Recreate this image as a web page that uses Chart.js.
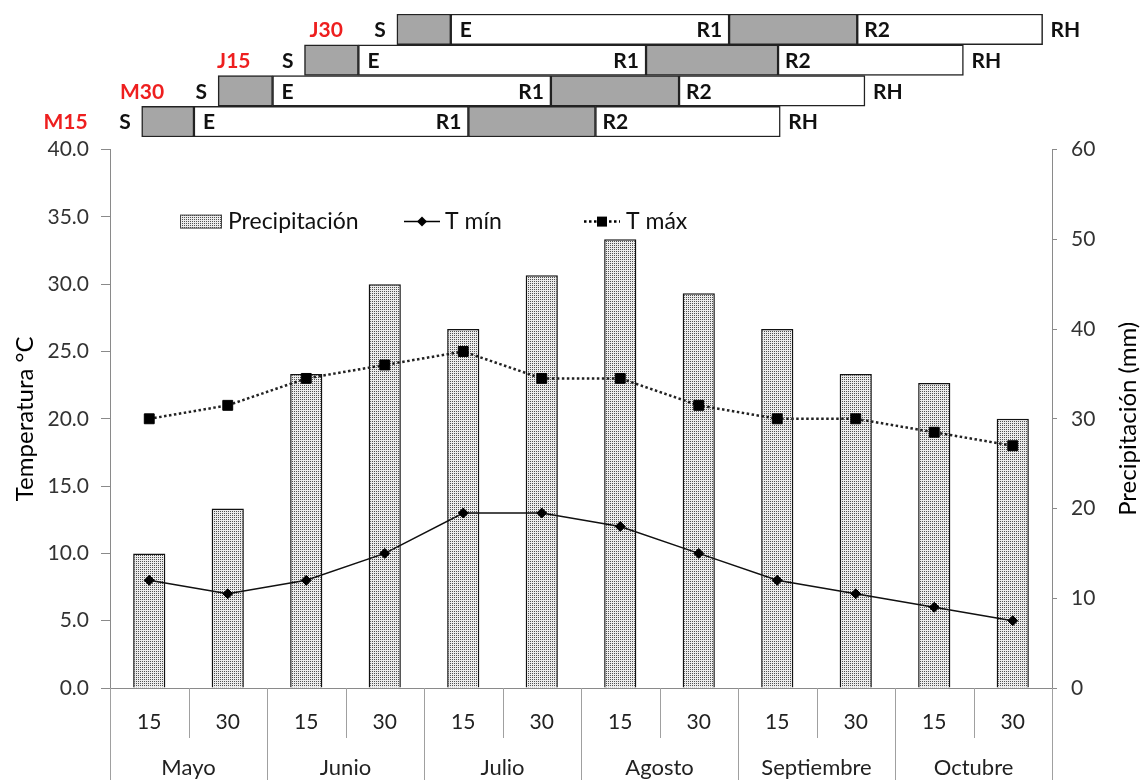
<!DOCTYPE html>
<html>
<head>
<meta charset="utf-8">
<script src="https://cdn.jsdelivr.net/npm/chart.js@4.4.1/dist/chart.umd.min.js"></script>
<style>
  body { margin: 0; background: #fff; }
  #wrap { position: relative; width: 1142px; height: 780px; overflow: hidden; }
  #fases { position: absolute; left: 0; top: 0; }
  #clima { position: absolute; left: 0; top: 123px; }
</style>
</head>
<body>
<div id="wrap">
  <canvas id="fases" width="1142" height="140"></canvas>
  <canvas id="clima" width="1142" height="657"></canvas>
</div>
<script>
// fechas de siembra y fases (dias desde el 1 de mayo)
const fechasSiembra = ['J30', 'J15', 'M30', 'M15'];
const diaS = [60.4, 43.6, 27.9, 14.0];
const diaE = [70.2, 53.4, 37.8, 23.5];
const diaR1 = [120.8, 105.7, 88.4, 73.4];
const diaR2 = [144.1, 129.7, 111.7, 96.5];
const diaRH = [177.8, 163.4, 145.5, 130.1];

// datos climaticos por quincena
const quincenas = ['15', '30', '15', '30', '15', '30', '15', '30', '15', '30', '15', '30'];
const meses = ['Mayo', 'Junio', 'Julio', 'Agosto', 'Septiembre', 'Octubre'];
const precipitacion = [15, 20, 35, 45, 40, 46, 50, 44, 40, 35, 34, 30];
const tMin = [8, 7, 8, 10, 13, 13, 12, 10, 8, 7, 6, 5];
const tMax = [20, 21, 23, 24, 25, 23, 23, 21, 20, 20, 19, 18];

const FONT = 'Lato, "Open Sans", sans-serif';
const GRIS = '#a6a6a6';
const EJE = '#8a8a8a';

// textura punteada para las barras
function makePattern() {
    const c = document.createElement('canvas');
    c.width = 2; c.height = 2;
    const g = c.getContext('2d');
    g.fillStyle = '#ececec';
    g.fillRect(0, 0, 2, 2);
    g.fillStyle = '#505050';
    g.fillRect(0, 0, 1, 1);
    return g.createPattern(c, 'repeat');
}
const trama = makePattern();

// ---- diagrama de fases ----
function tramo(a, b) {
    return fechasSiembra.map((_, i) => [a[i], b[i]]);
}

const etiquetasFases = {
    id: 'etiquetasFases',
    afterDatasetsDraw(chart) {
        const ctx = chart.ctx;
        const xs = chart.scales.x, ys = chart.scales.y;
        ctx.save();
        ctx.textBaseline = 'middle';
        ctx.font = 'bold 21px ' + FONT;
        fechasSiembra.forEach((f, i) => {
            const y = ys.getPixelForValue(i) + 1;
            const xS = xs.getPixelForValue(diaS[i]);
            const xE = xs.getPixelForValue(diaE[i]);
            const x1 = xs.getPixelForValue(diaR1[i]);
            const x2 = xs.getPixelForValue(diaR2[i]);
            const xH = xs.getPixelForValue(diaRH[i]);
            ctx.fillStyle = '#ee1f1f';
            ctx.textAlign = 'right';
            ctx.fillText(f, xS - 54, y);
            ctx.fillStyle = '#111';
            ctx.fillText('S', xS - 11, y);
            ctx.fillText('R1', x1 - 7, y);
            ctx.textAlign = 'left';
            ctx.fillText('E', xE + 9, y);
            ctx.fillText('R2', x2 + 7, y);
            ctx.fillText('RH', xH + 8, y);
        });
        ctx.restore();
    }
};

const estiloTramo = {
    borderColor: '#222',
    borderWidth: 1.5,
    borderSkipped: false,
    grouped: false,
    barPercentage: 1,
    categoryPercentage: 1
};

new Chart(document.getElementById('fases'), {
    type: 'bar',
    data: {
        labels: fechasSiembra,
        datasets: [
            Object.assign({ label: 'S-E', data: tramo(diaS, diaE), backgroundColor: GRIS }, estiloTramo),
            Object.assign({ label: 'E-R1', data: tramo(diaE, diaR1), backgroundColor: '#fff' }, estiloTramo),
            Object.assign({ label: 'R1-R2', data: tramo(diaR1, diaR2), backgroundColor: GRIS }, estiloTramo),
            Object.assign({ label: 'R2-RH', data: tramo(diaR2, diaRH), backgroundColor: '#fff' }, estiloTramo)
        ]
    },
    options: {
        indexAxis: 'y',
        responsive: false,
        animation: false,
        layout: { padding: { top: 14, bottom: 3, left: 0, right: 0 } },
        plugins: { legend: { display: false }, tooltip: { enabled: false } },
        scales: {
            x: { type: 'linear', display: false, min: -11.76, max: 195.87 },
            y: { display: false }
        }
    },
    plugins: [etiquetasFases]
});

// ---- grafico climatico ----
const decorado = {
    id: 'decorado',
    afterDraw(chart) {
        const ctx = chart.ctx;
        const a = chart.chartArea;
        const xs = chart.scales.x;
        const paso = (a.right - a.left) / quincenas.length;
        ctx.save();
        // separadores de categorias
        ctx.strokeStyle = '#a0a0a0';
        ctx.lineWidth = 1;
        for (let i = 0; i <= quincenas.length; i++) {
            const x = Math.round(a.left + i * paso) + 0.5;
            const largo = i % 2 === 0 ? chart.height - a.bottom : 50;
            ctx.beginPath();
            ctx.moveTo(x, a.bottom);
            ctx.lineTo(x, a.bottom + largo);
            ctx.stroke();
        }
        // meses
        ctx.fillStyle = '#222';
        ctx.font = '22px ' + FONT;
        ctx.textAlign = 'center';
        ctx.textBaseline = 'middle';
        meses.forEach((m, k) => {
            const x = (xs.getPixelForValue(2 * k) + xs.getPixelForValue(2 * k + 1)) / 2;
            ctx.fillText(m, x, a.bottom + 80);
        });
        // titulos de ejes
        const yc = (a.top + a.bottom) / 2;
        ctx.fillStyle = '#000';
        ctx.font = '24px ' + FONT;
        ctx.save();
        ctx.translate(25, yc);
        ctx.rotate(-Math.PI / 2);
        ctx.fillText('Temperatura °C', 0, 0);
        ctx.restore();
        ctx.save();
        ctx.translate(1128, yc);
        ctx.rotate(-Math.PI / 2);
        ctx.fillText('Precipitación (mm)', 0, 0);
        ctx.restore();

        // leyenda
        const ly = a.top + 72;
        ctx.font = '23px ' + FONT;
        ctx.textAlign = 'left';
        ctx.fillStyle = trama;
        ctx.fillRect(180, ly - 7, 42, 14);
        ctx.strokeStyle = '#444';
        ctx.strokeRect(180.5, ly - 6.5, 41, 13);
        ctx.fillStyle = '#111';
        ctx.fillText('Precipitación', 228, ly);

        ctx.strokeStyle = '#000';
        ctx.lineWidth = 1.5;
        ctx.beginPath();
        ctx.moveTo(404, ly); ctx.lineTo(440, ly);
        ctx.stroke();
        ctx.beginPath();
        ctx.moveTo(422, ly - 5); ctx.lineTo(427, ly); ctx.lineTo(422, ly + 5); ctx.lineTo(417, ly);
        ctx.closePath();
        ctx.fillStyle = '#000';
        ctx.fill();
        ctx.fillStyle = '#111';
        ctx.fillText('T mín', 445, ly);

        ctx.lineWidth = 2.5;
        ctx.setLineDash([2.5, 2.5]);
        ctx.beginPath();
        ctx.moveTo(584, ly); ctx.lineTo(620, ly);
        ctx.stroke();
        ctx.setLineDash([]);
        ctx.fillStyle = '#000';
        ctx.fillRect(597, ly - 5, 10, 10);
        ctx.fillStyle = '#111';
        ctx.fillText('T máx', 626, ly);
        ctx.restore();
    }
};

new Chart(document.getElementById('clima'), {
    type: 'bar',
    data: {
        labels: quincenas,
        datasets: [
            {
                type: 'line',
                label: 'T mín',
                data: tMin,
                yAxisID: 'y',
                borderColor: '#111',
                borderWidth: 1.5,
                pointStyle: 'rectRot',
                pointRadius: 5,
                pointBackgroundColor: '#000',
                pointBorderColor: '#000',
                pointBorderWidth: 1,
                order: 1
            },
            {
                type: 'line',
                label: 'T máx',
                data: tMax,
                yAxisID: 'y',
                borderColor: '#222',
                borderWidth: 2.5,
                borderDash: [2.5, 2.5],
                pointStyle: 'rect',
                pointRadius: 7,
                pointBackgroundColor: '#000',
                pointBorderColor: '#000',
                pointBorderWidth: 1,
                order: 2
            },
            {
                label: 'Precipitación',
                data: precipitacion,
                yAxisID: 'y1',
                backgroundColor: trama,
                borderColor: '#111',
                borderWidth: 1.5,
                borderSkipped: 'bottom',
                barPercentage: 0.41,
                categoryPercentage: 1,
                order: 3
            }
        ]
    },
    options: {
        responsive: false,
        animation: false,
        layout: { padding: 0 },
        plugins: { legend: { display: false }, tooltip: { enabled: false } },
        scales: {
            x: {
                grid: { display: false },
                border: { color: EJE, width: 1 },
                ticks: { color: '#222', font: { family: FONT, size: 21 }, padding: 14, maxRotation: 0 },
                afterFit: s => { s.height = 92; }
            },
            y: {
                position: 'left',
                min: 0, max: 40,
                ticks: { stepSize: 5, color: '#333', font: { family: FONT, size: 21 }, padding: 12,
                    callback: v => v.toFixed(1) },
                grid: { drawOnChartArea: false, tickLength: 9, color: EJE },
                border: { color: EJE, width: 1 },
                afterFit: s => { s.width = 110; }
            },
            y1: {
                position: 'right',
                min: 0, max: 60,
                ticks: { stepSize: 10, color: '#333', font: { family: FONT, size: 21 }, padding: 14 },
                grid: { drawOnChartArea: false, tickLength: 5, color: EJE },
                border: { color: EJE, width: 1 },
                afterFit: s => { s.width = 90; }
            }
        }
    },
    plugins: [decorado]
});
</script>
</body>
</html>
